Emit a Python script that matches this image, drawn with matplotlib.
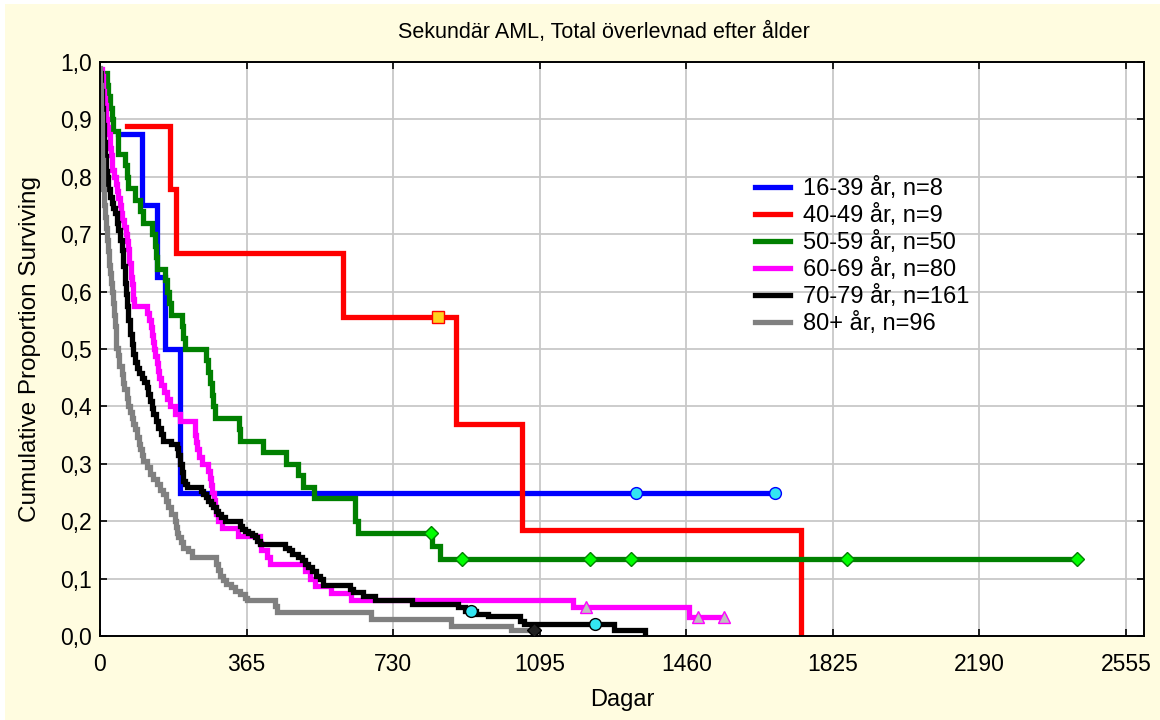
import matplotlib.pyplot as plt
from matplotlib.patches import Rectangle

plt.rcParams['font.family'] = ['Liberation Sans', 'DejaVu Sans']

# Kaplan-Meier steps per age group: day of event and survival after it
t_1639 = [45, 104, 143, 162, 199, 1682]
s_1639 = [0.875, 0.75, 0.625, 0.5, 0.25, 0.25]
cens_t_1639 = [1334, 1682]
cens_s_1639 = [0.25, 0.25]

t_4049 = [67, 174, 189, 604, 886, 1052, 1747]
s_4049 = [0.889, 0.778, 0.667, 0.556, 0.370, 0.185, 0.0]
cens_t_4049 = [841]
cens_s_4049 = [0.556]

t_5059 = [10, 17, 21, 25, 30, 33, 44, 46, 62, 66, 70, 87, 100, 108, 129, 137,
          139, 141, 162, 166, 172, 176, 203, 207, 211, 265, 270, 274, 278, 282,
          286, 346, 348, 406, 464, 493, 506, 533, 634, 642, 827, 846, 2433]
s_5059 = [0.98, 0.96, 0.94, 0.92, 0.90, 0.88, 0.86, 0.84, 0.82, 0.80, 0.78,
          0.76, 0.74, 0.72, 0.70, 0.68, 0.66, 0.64, 0.62, 0.60, 0.58, 0.56,
          0.54, 0.52, 0.50, 0.48, 0.46, 0.44, 0.42, 0.40, 0.38, 0.36, 0.34,
          0.32, 0.30, 0.28, 0.26, 0.24, 0.20, 0.18, 0.157, 0.135, 0.135]
cens_t_5059 = [825, 901, 1221, 1323, 1861, 2433]
cens_s_5059 = [0.18, 0.135, 0.135, 0.135, 0.135, 0.135]

t_6069 = [2, 5, 8, 10, 12, 15, 18, 21, 24, 27, 31, 35, 39, 42, 46, 50, 53, 56,
          60, 64, 67, 70, 73, 76, 79, 82, 85, 118, 122, 126, 129, 132, 135, 138,
          141, 144, 147, 153, 160, 166, 174, 186, 199, 236, 239, 241, 247, 253,
          270, 274, 277, 280, 283, 287, 290, 295, 303, 344, 398, 402, 415, 423,
          510, 522, 535, 575, 626, 1178, 1468, 1555]
s_6069 = [0.9875, 0.975, 0.95, 0.9375, 0.925, 0.9, 0.8875, 0.875, 0.85, 0.8375,
          0.8125, 0.8, 0.7875, 0.775, 0.7625, 0.75, 0.7375, 0.725, 0.7125, 0.7,
          0.6875, 0.675, 0.65, 0.625, 0.6125, 0.5875, 0.575, 0.5625, 0.55,
          0.5375, 0.525, 0.5125, 0.5, 0.4875, 0.475, 0.4625, 0.45, 0.4375,
          0.425, 0.4125, 0.4, 0.3875, 0.375, 0.35, 0.3375, 0.325, 0.3125, 0.3,
          0.2875, 0.275, 0.2625, 0.25, 0.2375, 0.225, 0.2125, 0.2, 0.1875,
          0.175, 0.1625, 0.15, 0.1375, 0.125, 0.1125, 0.1, 0.0875, 0.075,
          0.0625, 0.05, 0.0333, 0.0333]
cens_t_6069 = [1211, 1489, 1555]
cens_s_6069 = [0.05, 0.0333, 0.0333]

t_7079 = [1, 3, 5, 7, 9, 12, 15, 17, 21, 25, 29, 33, 37, 42, 46, 50, 54, 58, 62,
          64, 66, 70, 75, 79, 83, 87, 91, 98, 104, 110, 116, 120, 124, 129, 133,
          139, 145, 152, 158, 178, 191, 195, 199, 203, 207, 212, 216, 251, 257,
          263, 270, 276, 282, 288, 294, 302, 311, 349, 353, 361, 369, 378, 386,
          392, 398, 460, 470, 477, 493, 502, 510, 518, 527, 539, 548, 556, 622,
          630, 655, 684, 776, 892, 910, 937, 966, 1045, 1057, 1281, 1358]
s_7079 = [0.98, 0.95, 0.92, 0.89, 0.86, 0.836, 0.81, 0.8, 0.778, 0.765, 0.754,
          0.745, 0.737, 0.72, 0.708, 0.69, 0.673, 0.645, 0.615, 0.595, 0.575,
          0.55, 0.526, 0.508, 0.491, 0.478, 0.467, 0.458, 0.45, 0.442, 0.433,
          0.422, 0.41, 0.398, 0.386, 0.375, 0.363, 0.352, 0.34, 0.334, 0.328,
          0.315, 0.3, 0.285, 0.27, 0.264, 0.259, 0.253, 0.247, 0.242, 0.236,
          0.23, 0.224, 0.218, 0.213, 0.207, 0.2, 0.192, 0.186, 0.183, 0.18,
          0.176, 0.172, 0.166, 0.16, 0.154, 0.149, 0.143, 0.137, 0.132, 0.126,
          0.12, 0.114, 0.105, 0.099, 0.0885, 0.082, 0.076, 0.0705, 0.062, 0.056,
          0.05, 0.044, 0.038, 0.035, 0.027, 0.021, 0.0096, 0.0]
cens_t_7079 = [925, 1232]
cens_s_7079 = [0.044, 0.021]

t_80 = [0, 1, 2, 3, 4, 5, 6, 7, 8, 10, 12, 15, 17, 20, 23, 25, 27, 30, 33, 35,
        37, 39, 41, 45, 48, 54, 57, 60, 66, 70, 75, 79, 83, 87, 91, 96, 100, 104,
        108, 116, 124, 133, 141, 150, 158, 164, 170, 178, 187, 190, 193, 195,
        201, 207, 218, 228, 288, 294, 299, 307, 315, 325, 336, 348, 361, 365,
        436, 440, 676, 875, 1024, 1082]
s_80 = [0.99, 0.96, 0.93, 0.91, 0.89, 0.86, 0.83, 0.8, 0.778, 0.75, 0.73, 0.71,
        0.69, 0.67, 0.646, 0.633, 0.615, 0.6, 0.58, 0.56, 0.54, 0.52, 0.502,
        0.49, 0.47, 0.456, 0.44, 0.43, 0.415, 0.4, 0.39, 0.38, 0.37, 0.36,
        0.346, 0.335, 0.325, 0.315, 0.305, 0.295, 0.282, 0.273, 0.265, 0.255,
        0.247, 0.236, 0.224, 0.213, 0.2, 0.19, 0.18, 0.172, 0.163, 0.154, 0.148,
        0.137, 0.125, 0.115, 0.105, 0.098, 0.09, 0.085, 0.079, 0.073, 0.067,
        0.0625, 0.052, 0.041, 0.03, 0.018, 0.0096, 0.0096]
cens_t_80 = [1082]
cens_s_80 = [0.0096]

labels = ['16-39 år, n=8', '40-49 år, n=9', '50-59 år, n=50',
          '60-69 år, n=80', '70-79 år, n=161', '80+ år, n=96']
x_ticks = [0, 365, 730, 1095, 1460, 1825, 2190, 2555]
y_ticks = [0.0, 0.1, 0.2, 0.3, 0.4, 0.5, 0.6, 0.7, 0.8, 0.9, 1.0]
y_ticklabels = ['0,0', '0,1', '0,2', '0,3', '0,4', '0,5', '0,6', '0,7', '0,8', '0,9', '1,0']

# line colour, censor marker, marker fill, marker edge
series = [
    (t_1639, s_1639, cens_t_1639, cens_s_1639, '#0000FF', 'o', '#33E6F2', '#0000FF'),
    (t_4049, s_4049, cens_t_4049, cens_s_4049, '#FF0000', 's', '#FFD21E', '#FF0000'),
    (t_5059, s_5059, cens_t_5059, cens_s_5059, '#008000', 'D', '#00FF00', '#008000'),
    (t_6069, s_6069, cens_t_6069, cens_s_6069, '#FF00FF', '^', '#C0C0C0', '#FF00FF'),
    (t_7079, s_7079, cens_t_7079, cens_s_7079, '#000000', 'o', '#33E6F2', '#000000'),
    (t_80, s_80, cens_t_80, cens_s_80, '#808080', 'D', '#202020', '#000000'),
]

fig = plt.figure(figsize=(11.6, 7.2), dpi=100)
fig.patch.set_facecolor('white')
# pale yellow panel behind everything, leaving a thin white rim top/left
fig.patches.append(Rectangle((5 / 1160, 0), 1, 716 / 720, transform=fig.transFigure,
                             facecolor='#FFFCE0', edgecolor='none', zorder=-10))

ax = fig.add_axes([100 / 1160, 84 / 720, 1044 / 1160, 574 / 720])
ax.set_facecolor('white')

for (t, s, ct, cs, col, mk, mfc, mec), lab in zip(series, labels):
    ax.plot(t, s, drawstyle='steps-post', color=col, lw=3.8, label=lab,
            solid_joinstyle='miter')
    ax.plot(ct, cs, ls='none', marker=mk, ms=8.5 if mk != 'D' else 7.5,
            mfc=mfc, mec=mec, mew=1.0, zorder=5)

ax.set_xlim(0, 2600)
ax.set_ylim(0, 1.0)
ax.set_xticks(x_ticks)
ax.set_yticks(y_ticks)
ax.set_yticklabels(y_ticklabels)
ax.grid(True, color='#C8C8C8', lw=1.3)
ax.set_axisbelow(True)
ax.tick_params(direction='in', length=5, width=1.2, top=True, right=True,
               labelsize=16.5, colors='black')
ax.tick_params(axis='x', pad=12.5)
ax.tick_params(axis='y', pad=6)
for sp in ax.spines.values():
    sp.set_linewidth(1.4)

ax.set_xlabel('Dagar', fontsize=17)
ax.set_ylabel('Cumulative Proportion Surviving', fontsize=17.5)
ax.xaxis.set_label_coords(0.5, -0.111)
ax.yaxis.set_label_coords(-0.067, 0.5)
ax.xaxis.label.set_va('center')
ax.yaxis.label.set_va('center')

fig.text(604 / 1160, 688 / 720, 'Sekundär AML, Total överlevnad efter ålder',
         ha='center', va='center', fontsize=15.5)

ax.legend(loc='upper left', bbox_to_anchor=(755 / 1160, 543 / 720),
          bbox_transform=fig.transFigure, frameon=False, fontsize=17,
          handlelength=1.5, handletextpad=0.55, labelspacing=0.17,
          borderaxespad=0, borderpad=0)

fig.savefig('out.png', dpi=100, facecolor=fig.get_facecolor())
